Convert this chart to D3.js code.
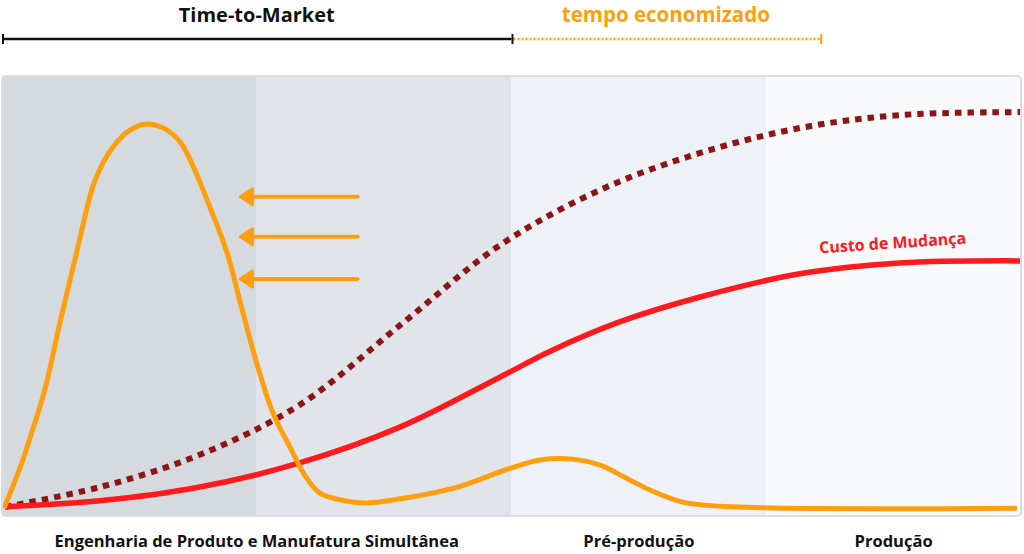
<!DOCTYPE html>
<html>
<head>
<meta charset="utf-8">
<script src="https://cdn.jsdelivr.net/npm/d3@7"></script>
<style>
  body { margin: 0; background: #fff; }
  text { font-family: "Open Sans", "Noto Sans", sans-serif; font-weight: 700; }
</style>
</head>
<body>
<svg id="chart"></svg>
<script>
// Set svg size.
const width = 1024;
const height = 554;

// Phase bands (x in percent of the timeline) and their labels.
const bandEdges = [0, 25, 50, 75, 100];
const bandColors = ["#d5dadf", "#e1e5ea", "#eef1f5", "#f8f9fb"];
const phaseLabels = ["Engenharia de Produto e Manufatura Simultânea", "Pré-produção", "Produção"];
const phaseCenters = [25, 62.5, 87.5];

// Timeline spans on top.
const timeToMarket = [0, 50];
const tempoEconomizado = [50, 80.3];

// Orange curve (effort).
const esforco = [
  [0.2, 0.2], [1.8, 9.8], [3.0, 18.4], [4.2, 27.7], [5.7, 43.5], [7.2, 58.4],
  [8.9, 74.9], [9.9, 80.5], [10.9, 84.2], [12.3, 87.7], [14.0, 89.5],
  [16.0, 88.4], [17.5, 85.3], [18.7, 80.0], [20.4, 70.2], [22.1, 59.5],
  [23.4, 47.9], [24.9, 34.7], [26.6, 22.3], [28.3, 14.2], [29.7, 7.9],
  [31.2, 3.7], [33.7, 1.9], [35.8, 1.4], [39.7, 2.6], [44.7, 5.1],
  [49.9, 9.5], [52.8, 11.4], [56.0, 11.6], [58.7, 10.2], [61.1, 7.4],
  [63.6, 4.4], [66.8, 1.6], [71.7, 0.5], [99.6, 0.2]
];

// Red curve: Custo de Mudança.
const custoMudanca = [
  [0.3, 0.5], [9.6, 1.9], [19.4, 5.1], [29.2, 10.7], [39.1, 19.1], [48.9, 30.7],
  [53.8, 36.7], [60.6, 43.5], [68.5, 49.3], [78.3, 54.7], [88.1, 57.2], [99.9, 57.7]
];

// Dotted dark red curve.
const custoAcumulado = [
  [0.3, 0.5], [9.6, 5.1], [19.4, 12.6], [29.2, 24.2], [39.1, 42.8], [48.9, 61.4],
  [58.7, 74.2], [68.5, 82.8], [78.3, 88.6], [88.1, 91.6], [99.9, 92.3]
];

// Arrows pointing left (x start, x end, y).
const arrowYs = [72.6, 63.3, 53.5];
const arrowX = [34.9, 23.4];

const labelCusto = { x: 87.4, y: 61.9, text: "Custo de Mudança" };

const svg = d3.select("#chart").attr("width", width).attr("height", height);

const x = d3.scaleLinear().domain([0, 100]).range([2, 1021]);
const y = d3.scaleLinear().domain([0, 100]).range([509, 79]);

const panelTop = 76;
const panelBottom = 516;

// Clip for the rounded panel.
const defs = svg.append("defs");
defs.append("clipPath").attr("id", "panel-clip")
  .append("rect")
  .attr("x", x(0)).attr("y", panelTop)
  .attr("width", x(100) - x(0)).attr("height", panelBottom - panelTop)
  .attr("rx", 4);

const panel = svg.append("g").attr("clip-path", "url(#panel-clip)");

panel.selectAll("rect.band")
  .data(bandColors)
  .enter()
  .append("rect")
  .attr("class", "band")
  .attr("x", (d, i) => x(bandEdges[i]))
  .attr("y", panelTop)
  .attr("width", (d, i) => x(bandEdges[i + 1]) - x(bandEdges[i]))
  .attr("height", panelBottom - panelTop)
  .attr("fill", d => d);

// Panel border.
svg.append("rect")
  .attr("x", x(0)).attr("y", panelTop)
  .attr("width", x(100) - x(0)).attr("height", panelBottom - panelTop)
  .attr("rx", 4)
  .attr("fill", "none")
  .attr("stroke", "#dadee3")
  .attr("stroke-width", 2);

const line = d3.line()
  .x(d => x(d[0]))
  .y(d => y(d[1]))
  .curve(d3.curveCatmullRom.alpha(0.5));

panel.append("path")
  .datum(custoAcumulado)
  .attr("d", line)
  .attr("fill", "none")
  .attr("stroke", "#8e1515")
  .attr("stroke-width", 6)
  .attr("stroke-dasharray", "6.5,6");

panel.append("path")
  .datum(custoMudanca)
  .attr("d", line)
  .attr("fill", "none")
  .attr("stroke", "#ff1a1e")
  .attr("stroke-width", 5.5);

panel.append("path")
  .datum(esforco)
  .attr("d", line)
  .attr("fill", "none")
  .attr("stroke", "#ff9f0e")
  .attr("stroke-width", 5)
  .attr("stroke-linejoin", "round");

// Arrows.
const arrows = svg.append("g").attr("id", "arrows");
arrowYs.forEach(v => {
  const tip = x(arrowX[1]);
  const yy = y(v);
  arrows.append("line")
    .attr("x1", x(arrowX[0])).attr("x2", tip + 8)
    .attr("y1", yy).attr("y2", yy)
    .attr("stroke", "#ff9f0e").attr("stroke-width", 4)
    .attr("stroke-linecap", "round");
  arrows.append("path")
    .attr("d", `M${tip},${yy} L${tip + 12},${yy - 8} L${tip + 12},${yy + 8} Z`)
    .attr("fill", "#ff9f0e").attr("stroke", "#ff9f0e")
    .attr("stroke-width", 3).attr("stroke-linejoin", "round");
});

// Custo de Mudança label.
svg.append("text")
  .attr("transform", `translate(${x(labelCusto.x)},${y(labelCusto.y)}) rotate(-3.8)`)
  .attr("text-anchor", "middle")
  .attr("dy", "0.35em")
  .attr("fill", "#ff1a1e")
  .attr("font-size", 16)
  .text(labelCusto.text);

// Top timeline.
const lineY = 39;
svg.append("line")
  .attr("x1", x(timeToMarket[0])).attr("x2", x(timeToMarket[1]))
  .attr("y1", lineY).attr("y2", lineY)
  .attr("stroke", "#111").attr("stroke-width", 2.5);
svg.append("line")
  .attr("x1", x(tempoEconomizado[0]) + 2).attr("x2", x(tempoEconomizado[1]))
  .attr("y1", lineY).attr("y2", lineY)
  .attr("stroke", "#ff9f0e").attr("stroke-width", 2.5)
  .attr("stroke-dasharray", "2,2");

[[timeToMarket[0], "#111"], [timeToMarket[1], "#111"], [tempoEconomizado[1], "#ff9f0e"]].forEach(t => {
  svg.append("line")
    .attr("x1", x(t[0]) + 1).attr("x2", x(t[0]) + 1)
    .attr("y1", lineY - 5).attr("y2", lineY + 5)
    .attr("stroke", t[1]).attr("stroke-width", 2);
});

svg.append("text")
  .attr("x", x((timeToMarket[0] + timeToMarket[1]) / 2))
  .attr("y", 22)
  .attr("text-anchor", "middle")
  .attr("font-size", 20)
  .attr("fill", "#111")
  .text("Time-to-Market");

svg.append("text")
  .attr("x", x((tempoEconomizado[0] + tempoEconomizado[1]) / 2))
  .attr("y", 22)
  .attr("text-anchor", "middle")
  .attr("font-size", 20.5)
  .attr("fill", "#ff9f0e")
  .text("tempo economizado");

// Phase labels.
svg.selectAll("text.phase")
  .data(phaseLabels)
  .enter()
  .append("text")
  .attr("class", "phase")
  .attr("x", (d, i) => x(phaseCenters[i]))
  .attr("y", 547)
  .attr("text-anchor", "middle")
  .attr("font-size", 16.5)
  .attr("fill", "#111")
  .text(d => d);
</script>
</body>
</html>
